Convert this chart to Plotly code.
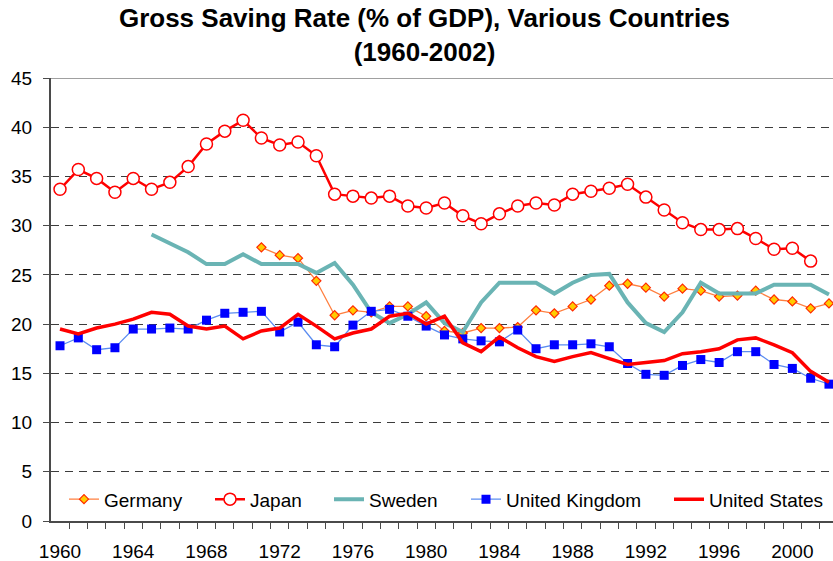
import plotly.graph_objects as go

years = list(range(1960, 2003))
tick_years = list(range(1960, 2001, 4))
y_ticks = list(range(0, 46, 5))

germany_years = list(range(1971, 2003))
germany = [27.8, 27.0, 26.7, 24.4, 20.9, 21.4, 21.2, 21.8, 21.8, 20.8, 19.3, 19.1, 19.6, 19.6, 19.7, 21.4,
           21.1, 21.8, 22.5, 23.9, 24.1, 23.7, 22.8, 23.6, 23.4, 22.8, 22.9, 23.4, 22.5, 22.3, 21.6, 22.1]

japan_years = list(range(1960, 2002))
japan = [33.7, 35.7, 34.8, 33.4, 34.8, 33.7, 34.4, 36.0, 38.3, 39.6, 40.7, 38.9, 38.2, 38.5, 37.1, 33.2,
         33.0, 32.8, 33.0, 32.0, 31.8, 32.3, 31.0, 30.2, 31.2, 32.0, 32.3, 32.1, 33.2, 33.5, 33.8, 34.2,
         32.9, 31.6, 30.3, 29.6, 29.6, 29.7, 28.7, 27.6, 27.7, 26.4]

sweden_years = list(range(1965, 2003))
sweden = [29.1, 28.2, 27.3, 26.1, 26.1, 27.1, 26.1, 26.1, 26.1, 25.2, 26.2, 24.0, 21.2, 20.1, 21.0, 22.2,
          20.1, 19.2, 22.2, 24.2, 24.2, 24.2, 23.1, 24.2, 25.0, 25.1, 22.2, 20.1, 19.2, 21.2, 24.2, 23.1,
          23.1, 23.1, 24.0, 24.0, 24.0, 23.0]

uk = [17.8, 18.6, 17.4, 17.6, 19.5, 19.5, 19.6, 19.5, 20.4, 21.1, 21.2, 21.3, 19.2, 20.2, 17.9, 17.7,
      19.9, 21.3, 21.5, 20.8, 19.8, 18.9, 18.5, 18.3, 18.2, 19.4, 17.5, 17.9, 17.9, 18.0, 17.7, 16.0,
      14.9, 14.8, 15.8, 16.4, 16.1, 17.2, 17.2, 15.9, 15.5, 14.5, 13.9]

us = [19.5, 19.0, 19.6, 20.0, 20.5, 21.2, 21.0, 19.8, 19.5, 19.8, 18.5, 19.3, 19.6, 21.0, 19.8, 18.5,
      19.1, 19.5, 20.8, 21.1, 20.0, 20.8, 18.1, 17.2, 18.7, 17.6, 16.7, 16.2, 16.7, 17.1, 16.5, 15.9,
      16.1, 16.3, 17.0, 17.2, 17.5, 18.4, 18.6, 17.9, 17.1, 15.2, 14.1]

FONT = "Liberation Sans, Arial, sans-serif"

fig = go.Figure()
fig.add_trace(go.Scatter(x=germany_years, y=germany, name="Germany", mode="lines+markers",
                         line=dict(color="#FF7F3F", width=1.3),
                         marker=dict(symbol="diamond", size=7, color="#FFCC00",
                                     line=dict(color="#FF2A00", width=1.2)),
                         legend="legend", showlegend=True))
fig.add_trace(go.Scatter(x=japan_years, y=japan, name="Japan", mode="lines+markers",
                         line=dict(color="#FF0000", width=2.5),
                         marker=dict(symbol="circle", size=12, color="white",
                                     line=dict(color="#FF0000", width=1.5)),
                         legend="legend2", showlegend=True))
fig.add_trace(go.Scatter(x=sweden_years, y=sweden, name="Sweden", mode="lines",
                         line=dict(color="#6AB4B4", width=4),
                         legend="legend3", showlegend=True))
fig.add_trace(go.Scatter(x=years, y=uk, name="United Kingdom", mode="lines+markers",
                         line=dict(color="#5B8CF0", width=1.3),
                         marker=dict(symbol="square", size=9, color="#0000FF",
                                     line=dict(width=0)),
                         legend="legend4", showlegend=True))
fig.add_trace(go.Scatter(x=years, y=us, name="United States", mode="lines",
                         line=dict(color="#FF0000", width=3.5),
                         legend="legend5", showlegend=True))

L, W = 51, 782
def lx(text_px):
    return (text_px - 40 - L) / W

leg_common = dict(orientation="h", yanchor="middle", y=0.049, xanchor="left",
                  bgcolor="rgba(0,0,0,0)", borderwidth=0,
                  font=dict(family=FONT, size=19, color="black"))

fig.update_layout(
    width=833, height=561,
    showlegend=True,
    margin=dict(l=L, r=0, t=78, b=40, autoexpand=False),
    paper_bgcolor="white", plot_bgcolor="white",
    font=dict(family=FONT, size=19, color="black"),
    title=dict(text="<b>Gross Saving Rate (% of GDP), Various Countries<br>(1960-2002)</b>",
               x=424.5 / 833, xanchor="center", xref="container",
               y=1 - 27 / 561, yanchor="top", yref="container",
               font=dict(family=FONT, size=26, color="black")),
    legend=dict(x=lx(104), **leg_common),
    legend2=dict(x=lx(250), **leg_common),
    legend3=dict(x=lx(369), **leg_common),
    legend4=dict(x=lx(506), **leg_common),
    legend5=dict(x=lx(709), **leg_common),
    xaxis=dict(range=[1959.508, 2002.22], showgrid=False, zeroline=False,
               tickmode="array", tickvals=tick_years, ticktext=[str(v) for v in tick_years],
               ticks="", ticklabelstandoff=12,
               showline=True, linecolor="#4a4a4a", linewidth=2,
               minor=dict(ticks="outside", tick0=1959.5, dtick=1, ticklen=6,
                          tickcolor="#4a4a4a", tickwidth=1.2, showgrid=False),
               tickfont=dict(family=FONT, size=19, color="black")),
    yaxis=dict(range=[0, 45], tickmode="array", tickvals=y_ticks,
               showgrid=True, gridcolor="#3c3c3c", gridwidth=1, griddash="8px,6px",
               zeroline=False, showline=True, linecolor="#4a4a4a", linewidth=2,
               ticks="outside", ticklen=6, tickcolor="#4a4a4a", tickwidth=1.2,
               ticklabelstandoff=7,
               tickfont=dict(family=FONT, size=19, color="black")),
    shapes=[dict(type="line", xref="paper", yref="y", x0=0, x1=1, y0=45, y1=45,
                 line=dict(color="#808080", width=1.5), layer="above")],
)

# remove the default 8px page margin so the figure fills the window exactly
fig.write_html("out.html", config={"displayModeBar": False},
               post_script="document.body.style.margin='0';document.body.style.overflow='hidden';")
